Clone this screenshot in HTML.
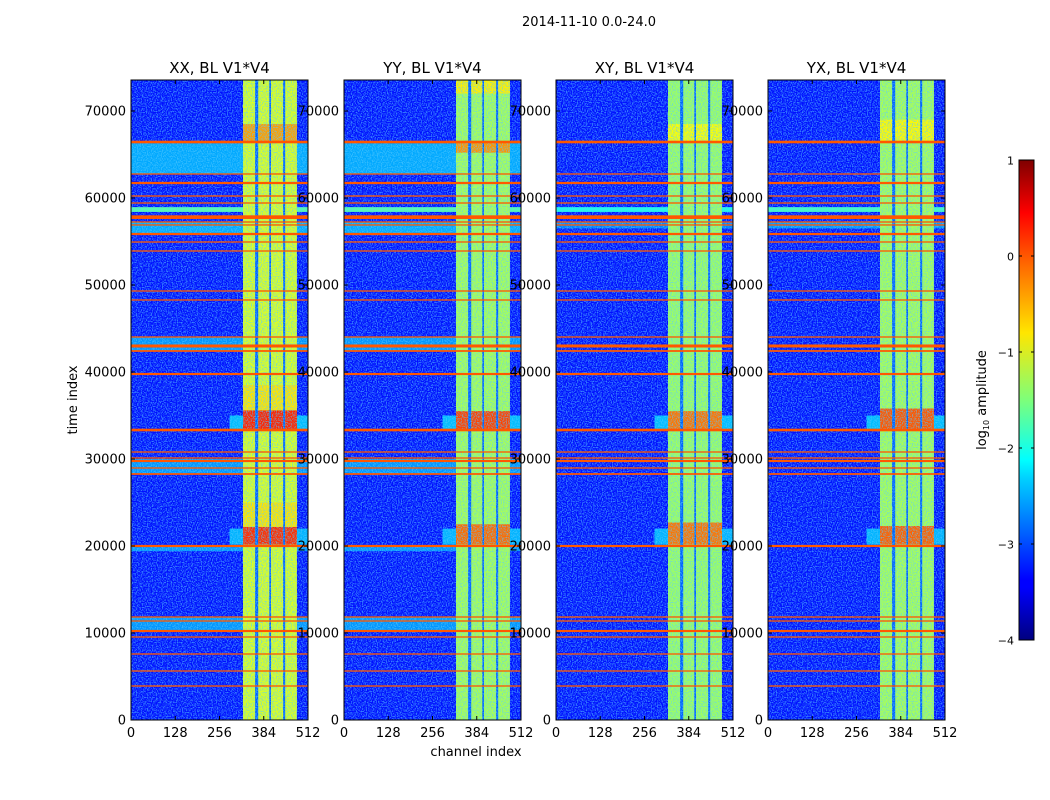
<!DOCTYPE html>
<html><head><meta charset="utf-8"><style>
body{margin:0;background:#fff;}
svg{display:block;font-family:"DejaVu Sans","Liberation Sans",sans-serif;}
</style></head><body>
<svg id="fig" width="1050" height="800" viewBox="0 0 1050 800">
<defs>
<filter id="noise" x="0" y="0" width="100%" height="100%">
<feTurbulence type="fractalNoise" baseFrequency="0.8" numOctaves="1" seed="3" result="t"/>
<feColorMatrix in="t" type="matrix" values="0 0 0 0 0.1  0 0 0 0 0.6  0 0 0 0 1  4 0 0 0 -1.7"/>
</filter>
<linearGradient id="jet" x1="0" y1="1" x2="0" y2="0">
<stop offset="0" stop-color="#00007f"/><stop offset="0.11" stop-color="#0000ff"/>
<stop offset="0.125" stop-color="#0000ff"/><stop offset="0.34" stop-color="#00d4ff"/>
<stop offset="0.375" stop-color="#00ffff"/><stop offset="0.5" stop-color="#7dff7a"/>
<stop offset="0.64" stop-color="#ffe600"/><stop offset="0.78" stop-color="#ff6a00"/>
<stop offset="0.89" stop-color="#ff0000"/><stop offset="1" stop-color="#7f0000"/>
</linearGradient>
</defs>
<text x="589" y="26" font-size="13" text-anchor="middle">2014-11-10 0.0-24.0</text>
<text transform="translate(77,400) rotate(-90)" font-size="13" text-anchor="middle">time index</text>
<text x="476" y="756" font-size="13" text-anchor="middle">channel index</text>
<g id="panels"></g>
<g id="cbar"></g>
</svg>
<script>
const panelTitles = ["XX, BL V1*V4","YY, BL V1*V4","XY, BL V1*V4","YX, BL V1*V4"];
const yTicks = [0,10000,20000,30000,40000,50000,60000,70000];
const xTicks = [0,128,256,384,512];
const cbarTicks = [-4,-3,-2,-1,0,1];
// RFI rows: [time index, thickness in time units]
const rfiRows = [[66437,300],[62759,150],[61724,260],[60230,150],[59425,150],[57800,420],[57241,150],[56900,150],[55862,260],[54943,150],[53908,150],[49310,150],[48276,150],[44023,150],[42989,350],[42414,200],[39770,250],[33333,300],[30805,150],[30115,150],[29770,250],[28966,150],[28276,200],[20000,250],[11839,150],[11379,150],[10230,250],[9540,150],[7586,150],[5632,150],[3908,150]];
// light background bands per panel: [t0, t1, log amplitude]
const lightBandsXX = [[62800,66300,-2.55],[58400,58950,-1.7],[55950,57300,-2.55],[42450,44000,-2.65],[28300,30000,-2.65],[19400,20000,-2.65],[10250,11800,-2.65]];
const lightBandsYY = [[62800,66300,-2.55],[58400,58950,-1.7],[55950,57300,-2.55],[42450,44000,-2.65],[28300,30000,-2.65],[19400,20000,-2.65],[10250,11800,-2.65]];
const lightBandsXY = [[58400,58950,-2.0],[56500,57300,-2.75]];
const lightBandsYX = [[58400,58950,-1.8],[56500,57300,-2.65]];
// channel bands [c0, c1]
const chanBands = [[324,359],[368,400],[405,440],[446,480]];
const bandLevel = [-1.05,-1.3,-1.35,-1.3];
// hot spots inside bands: [t0, t1, log amplitude]
const hotXX = [[33400,35600,0.2],[35600,38500,-0.75],[20150,22200,0.15],[22200,25000,-0.75],[66500,68500,-0.4]];
const hotYY = [[33400,35500,0.05],[20150,22500,-0.15],[65200,66400,-0.35],[72000,73500,-0.8]];
const hotXY = [[33400,35500,-0.2],[20150,22700,-0.2],[66500,68500,-0.9]];
const hotYX = [[33400,35800,-0.05],[20150,22300,-0.1],[66500,69000,-0.85]];
// spectral wings: [c0, c1, t0, t1, log amplitude]
const wings = [[285,512,33400,35000,-2.45],[285,512,20150,22000,-2.5]];
const bgLevel = -3.3, gapLevel = -2.9, rfiLevel = -0.05;

const lightAll = [lightBandsXX,lightBandsYY,lightBandsXY,lightBandsYX];
const hotAll = [hotXX,hotYY,hotXY,hotYX];
const panelX = [131,344,556,768], PW=177, PT=80, PB=720, TMAX=73563;
const NS="http://www.w3.org/2000/svg";
function jet(l){const v=Math.max(0,Math.min(1,(l+4)/5));const c=x=>Math.round(255*Math.max(0,Math.min(1,1.5-Math.abs(4*v-x))));return `rgb(${c(3)},${c(2)},${c(1)})`;}
function mk(tag,attrs,parent){const e=document.createElementNS(NS,tag);for(const k in attrs)e.setAttribute(k,attrs[k]);parent.appendChild(e);return e;}
const root=document.getElementById('panels');
panelTitles.forEach((title,p)=>{
  const x0=panelX[p];
  const xs=c=>x0+c/512*PW;
  const ys=t=>PB-t/TMAX*(PB-PT);
  const g=mk('g',{},root);
  
  
  const cp=mk('clipPath',{id:'cp'+p},g);
  mk('rect',{x:x0,y:PT,width:PW,height:PB-PT},cp);
  const hm=mk('g',{'clip-path':`url(#cp${p})`},g);
  
  
  mk('rect',{x:x0,y:PT,width:PW,height:PB-PT,fill:jet(bgLevel)},hm);
  lightAll[p].forEach(b=>{const r=mk('rect',{x:x0,y:ys(b[1]),width:PW,height:ys(b[0])-ys(b[1]),fill:jet(b[2])},hm);
    });
  wings.forEach(w=>{const r=mk('rect',{x:xs(w[0]),y:ys(w[3]),width:xs(w[1])-xs(w[0]),height:ys(w[2])-ys(w[3]),fill:jet(w[4])},hm);
    });
  mk('rect',{x:xs(chanBands[0][0]),y:PT,width:xs(chanBands[chanBands.length-1][1])-xs(chanBands[0][0]),height:PB-PT,fill:jet(gapLevel)},hm);
  chanBands.forEach(cb=>{
    const r=mk('rect',{x:xs(cb[0]),y:PT,width:xs(cb[1])-xs(cb[0]),height:PB-PT,fill:jet(bandLevel[p])},hm);
    
    hotAll[p].forEach(h=>{const s=mk('rect',{x:xs(cb[0]),y:ys(h[1]),width:xs(cb[1])-xs(cb[0]),height:ys(h[0])-ys(h[1]),fill:jet(h[2])},hm);
      });
  });
  mk('rect',{x:x0,y:PT,width:PW,height:PB-PT,filter:'url(#noise)',opacity:0.6},hm);
  rfiRows.forEach(r=>{const e=mk('rect',{x:x0,y:ys(r[0]+r[1]/2),width:PW,height:Math.max(1,ys(r[0]-r[1]/2)-ys(r[0]+r[1]/2)),fill:jet(rfiLevel)},hm);
    });
  mk('rect',{x:x0,y:PT,width:PW,height:PB-PT,fill:'none',stroke:'#000','stroke-width':1},g);
  const t=mk('text',{x:x0+PW/2,y:PT-7,'font-size':15,'text-anchor':'middle'},g);t.textContent=title;
  
  yTicks.forEach(v=>{const y=ys(v);
    mk('line',{x1:x0,x2:x0+4,y1:y,y2:y,stroke:'#000'},g);mk('line',{x1:x0+PW-4,x2:x0+PW,y1:y,y2:y,stroke:'#000'},g);
    const l=mk('text',{x:x0-5,y:y+4.5,'font-size':13,'text-anchor':'end'},g);l.textContent=v;
    });
  xTicks.forEach(v=>{const x=xs(v);
    mk('line',{x1:x,x2:x,y1:PB,y2:PB-4,stroke:'#000'},g);mk('line',{x1:x,x2:x,y1:PT,y2:PT+4,stroke:'#000'},g);
    const l=mk('text',{x:x,y:PB+17,'font-size':13,'text-anchor':'middle'},g);l.textContent=v;
    });
});
const cb=document.getElementById('cbar');


const CX=1019,CW=15,CT=160,CB=640;
const cy=v=>CB-(v+4)/5*(CB-CT);
mk('rect',{x:CX,y:CT,width:CW,height:CB-CT,fill:'url(#jet)',stroke:'#000','stroke-width':1},cb);
cbarTicks.forEach(v=>{const y=cy(v);
  mk('line',{x1:CX,x2:CX+3,y1:y,y2:y,stroke:'#000'},cb);mk('line',{x1:CX+CW-3,x2:CX+CW,y1:y,y2:y,stroke:'#000'},cb);
  const l=mk('text',{x:CX-5,y:y+4.5,'font-size':11,'text-anchor':'end'},cb);l.textContent=(v<0?'\u2212'+(-v):v);
  });
const ct=mk('text',{transform:'translate(986,400) rotate(-90)','font-size':13,'text-anchor':'middle'},cb);
ct.innerHTML='log<tspan font-size="8" dy="3">10</tspan><tspan dy="-3"> amplitude</tspan>';


</script>
</body></html>
